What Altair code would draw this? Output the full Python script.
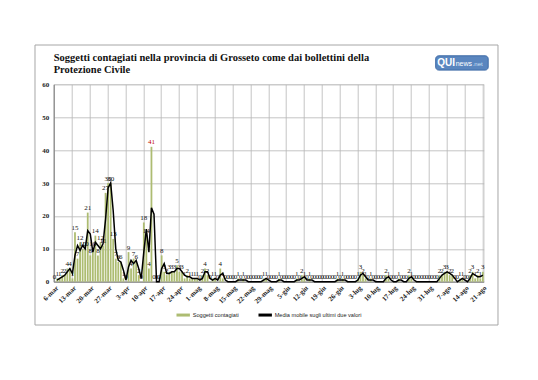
import altair as alt
import pandas as pd

# ---------------- data ----------------
months = ["mar", "apr", "mag", "giu", "lug", "ago"]
month_lengths = [31, 30, 31, 30, 31, 31]
first_day = 6

contagiati = [
    0, 1, 1, 2, 2, 4, 4, 1, 15, 7,
    12, 10, 10, 21, 8, 10, 14, 8, 12, 11,
    27, 30, 30, 13, 7, 6, 6, 1, 0, 9,
    4, 7, 6, 2, 0, 18, 14, 4, 41, 0,
    0, 0, 8, 3, 2, 3, 3, 3, 5, 3,
    3, 1, 2, 1, 1, 1, 1, 0, 2, 4,
    2, 0, 1, 1, 0, 4, 1, 0, 0, 0,
    0, 0, 1, 0, 1, 0, 0, 0, 0, 0,
    0, 0, 1, 1, 0, 0, 0, 0, 1, 0,
    0, 0, 0, 0, 0, 1, 0, 2, 1, 0,
    1, 0, 0, 0, 0, 0, 0, 0, 0, 0,
    0, 1, 0, 1, 0, 0, 0, 0, 0, 1,
    3, 2, 1, 0, 1, 0, 0, 0, 0, 0,
    2, 1, 0, 0, 0, 1, 0, 0, 0, 2,
    1, 0, 0, 0, 0, 0, 0, 0, 0, 0,
    0, 2, 2, 3, 3, 2, 2, 0, 0, 1,
    1, 0, 0, 2, 3, 1, 2, 1, 3,
]

# day labels "6-mar", "7-mar", ...
giorni = []
m, d = 0, first_day
for _ in contagiati:
    giorni.append(f"{d}-{months[m]}")
    d += 1
    if d > month_lengths[m]:
        d, m = 1, m + 1

x_tick_labels = giorni[::7]
y_ticks = [0, 10, 20, 30, 40, 50, 60]

serie_barre = "Soggetti contagiati"
serie_linea = "Media mobile sugli ultimi due valori"
title_lines = [
    "Soggetti contagiati nella provincia di Grosseto come dai bollettini della",
    "Protezione Civile",
]

GREEN = "#adbc72"
GRID = "#b5b5b5"
SERIF = "Liberation Serif"

df = pd.DataFrame({"giorno": giorni, "idx": list(range(len(giorni))), "contagiati": contagiati})

W, H = 430, 197.4

x_enc = alt.X(
    "giorno:N",
    sort=None,
    title=None,
    scale=alt.Scale(paddingInner=0.3, paddingOuter=0),
    axis=alt.Axis(
        values=x_tick_labels,
        labelAngle=-45,
        labelFont=SERIF,
        labelFontSize=7,
        labelFontWeight="bold",
        labelColor="#222",
        labelPadding=2,
        ticks=False,
        grid=True,
        gridColor=GRID,
        gridWidth=0.8,
        bandPosition=0.5,
        domainColor="#7f7f7f",
        labelOverlap=False,
    ),
)

y_axis = alt.Axis(
    values=y_ticks,
    labelFont=SERIF,
    labelFontSize=7,
    labelFontWeight="bold",
    labelColor="#222",
    labelPadding=5,
    labelOverlap=False,
    labelBound=False,
    ticks=False,
    grid=True,
    gridColor=GRID,
    gridWidth=0.8,
    domainColor="#7f7f7f",
)
y_scale = alt.Scale(domain=[0, 60], nice=False)

color_scale = alt.Scale(domain=[serie_barre, serie_linea], range=[GREEN, "black"])
legend = alt.Legend(
    title=None,
    orient="none",
    legendX=121,
    legendY=222,
    direction="horizontal",
    columns=2,
    columnPadding=12,
    symbolType="stroke",
    symbolStrokeWidth=3,
    symbolSize=180,
    labelFont="Liberation Sans",
    labelFontSize=5.6,
    labelColor="#222",
    labelOffset=1,
)

base = alt.Chart(df)

bars = base.transform_calculate(serie=f"'{serie_barre}'").mark_bar().encode(
    x=x_enc,
    y=alt.Y("contagiati:Q", title=None, scale=y_scale, axis=y_axis),
    color=alt.Color("serie:N", scale=color_scale, legend=legend),
)

line = base.transform_window(
    ma="mean(contagiati)", n="count()", frame=[-1, 0], sort=[alt.SortField("idx")]
).transform_filter("datum.n == 2").transform_calculate(serie=f"'{serie_linea}'").mark_line(
    strokeWidth=1.5
).encode(
    x=x_enc,
    y=alt.Y("ma:Q", title=None, scale=y_scale, axis=y_axis),
    color=alt.Color("serie:N", scale=color_scale, legend=legend),
)

labels = base.mark_text(
    baseline="bottom", dy=-1.5, font=SERIF, fontSize=7
).encode(
    x=x_enc,
    y=alt.Y("contagiati:Q", title=None, scale=y_scale, axis=y_axis),
    text=alt.Text("contagiati:Q"),
    color=alt.condition("datum.contagiati >= 40", alt.value("#c00000"), alt.value("#111")),
)

deco = alt.Data(values=[{}])
frame = alt.Chart(deco).mark_rect(fill="transparent", stroke="#a6a6a6", strokeWidth=1).encode(
    x=alt.value(-18.7), x2=alt.value(W + 14.3), y=alt.value(-39.3), y2=alt.value(H + 43.3)
)
logo_box = alt.Chart(deco).mark_rect(fill="#5a86bf", cornerRadius=3, stroke="#3d6aa6").encode(
    x=alt.value(382), x2=alt.value(434.5), y=alt.value(-28.5), y2=alt.value(-14.2)
)
logo_qui = alt.Chart(deco).mark_text(
    text="QUI", font="Liberation Sans", fontSize=10, fontWeight="bold", color="white", align="left", baseline="middle"
).encode(x=alt.value(383.5), y=alt.value(-21))
logo_news = alt.Chart(deco).mark_text(
    text="news", font="Liberation Sans", fontSize=7, color="white", align="left", baseline="middle"
).encode(x=alt.value(402), y=alt.value(-20.5))
logo_net = alt.Chart(deco).mark_text(
    text=".net", font="Liberation Sans", fontSize=6, color="#cfe0f5", align="left", baseline="middle"
).encode(x=alt.value(419), y=alt.value(-20.5))

chart = alt.layer(frame, bars, labels, line, logo_box, logo_qui, logo_news, logo_net).properties(
    width=W,
    height=H,
    title=alt.TitleParams(
        text=title_lines,
        anchor="start",
        frame="group",
        font=SERIF,
        fontSize=10.5,
        fontWeight="bold",
        color="#111",
        lineHeight=12.3,
        offset=-31,
    ),
    autosize=alt.AutoSizeParams(type="none"),
    padding={"left": 45.7, "top": 76.3, "right": 46.3, "bottom": 90.3},
).configure_view(stroke=None).configure(background="white")

chart.save("out.html", embed_options={"renderer": "svg", "actions": False})
